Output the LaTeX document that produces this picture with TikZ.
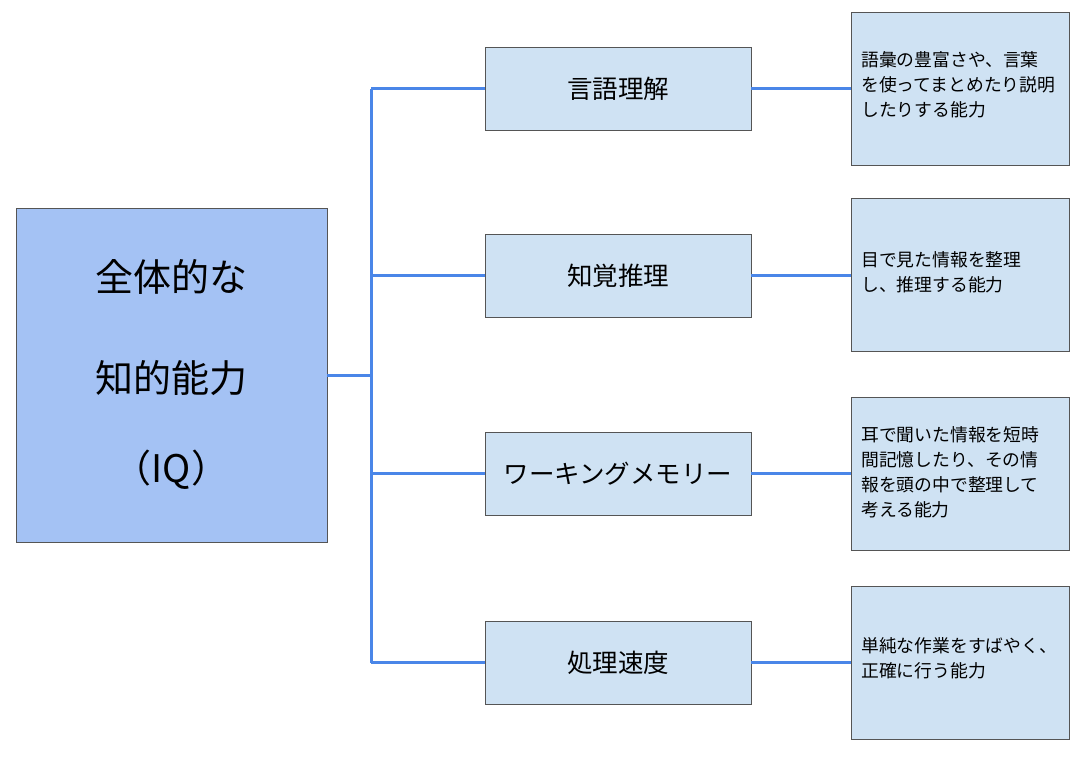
\documentclass[tikz,border=0pt]{standalone}
\usepackage{fontspec}
\setmainfont{Noto Sans CJK JP}
\begin{document}
\begin{tikzpicture}[x=1pt,y=-1pt,
  ln/.style={draw=lc,line width=3pt},
  mid/.style={draw=bd,fill=lb,minimum width=266pt,minimum height=83pt,font=\fontsize{25.5}{28}\selectfont,inner sep=0pt},
  rt/.style={draw=bd,fill=lb,minimum width=218pt,minimum height=153pt,inner sep=0pt},
  rtx/.style={anchor=north west,align=left,font=\fontsize{17.8}{25}\selectfont,inner sep=0pt}]
\definecolor{lc}{HTML}{4A86E8}
\definecolor{bd}{HTML}{555555}
\definecolor{lb}{HTML}{CFE2F3}
\definecolor{mb}{HTML}{A4C2F4}
\useasboundingbox (0,0) rectangle (1091,756);
\node[draw=bd,fill=mb,minimum width=311pt,minimum height=334pt,inner sep=0pt] (m) at (171.5,375) {};
\node[font=\fontsize{38}{42}\selectfont] at (171.5,277) {全体的な};
\node[font=\fontsize{38}{42}\selectfont] at (171.5,378) {知的能力};
\node[font=\fontsize{38}{42}\selectfont] at (171.5,470) {（IQ）};
\node[mid] (a) at (618,88.5) {言語理解};
\node[mid] (b) at (618,275.5) {知覚推理};
\node[mid] (c) at (618,473.5) {ワーキングメモリー};
\node[mid] (d) at (618,662.5) {処理速度};
\node[rt] (ra) at (960,88.5) {};
\node[rt] (rb) at (960,275) {};
\node[rt] (rc) at (960,473.5) {};
\node[rt] (rd) at (960,662.5) {};
\node[rtx] at (861,51) {語彙の豊富さや、言葉\\を使ってまとめたり説明\\したりする能力};
\node[rtx] at (861,251) {目で見た情報を整理\\し、推理する能力};
\node[rtx] at (861,426) {耳で聞いた情報を短時\\間記憶したり、その情\\報を頭の中で整理して\\考える能力};
\node[rtx] at (861,637) {単純な作業をすばやく、\\正確に行う能力};
\coordinate (t0) at (371,375);
\coordinate (ta) at (371,88.5);
\coordinate (tb) at (371,275.5);
\coordinate (tc) at (371,473.5);
\coordinate (td) at (371,662.5);
\draw[ln] (m.east|-t0) -- (t0);
\draw[ln] (ta) -- (td);
\draw[ln] (ta) -- (a.west);
\draw[ln] (tb) -- (b.west);
\draw[ln] (tc) -- (c.west);
\draw[ln] (td) -- (d.west);
\draw[ln] (a.east) -- (ra.west|-a.east);
\draw[ln] (b.east) -- (rb.west|-b.east);
\draw[ln] (c.east) -- (rc.west|-c.east);
\draw[ln] (d.east) -- (rd.west|-d.east);
\end{tikzpicture}
\end{document}
